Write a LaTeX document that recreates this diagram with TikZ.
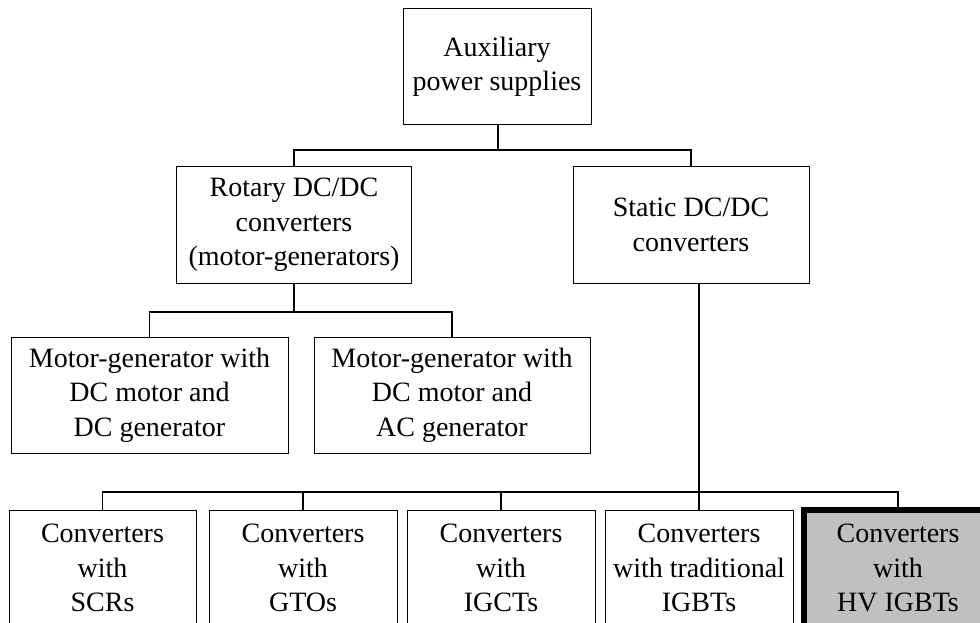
\documentclass[tikz,border=0pt]{standalone}
\usepackage{fontspec}
\setmainfont{Liberation Serif}
\usetikzlibrary{calc}
\definecolor{hvgrey}{HTML}{C0C0C0}
\tikzset{
  box/.style={draw=black, line width=1pt, fill=white, align=center, inner sep=0pt,
    minimum width=#1, minimum height=116pt,
    font=\fontsize{28}{34.5}\selectfont},
  box/.default=188pt,
  hvbox/.style={box, fill=hvgrey, line width=6pt},
  link/.style={draw=black, line width=1.3pt}
}
\begin{document}
\begin{tikzpicture}[x=1pt, y=-1pt]
  \useasboundingbox (0,0) rectangle (980,623);
  \clip (0,0) rectangle (980,623);

  % root
  \node[box] (aux) at (497,67) {Auxiliary\\power supplies};

  % second level
  \node[box=235pt] (rot) at (294,225) {Rotary DC/DC\\converters\\(motor-generators)};
  \node[box=236pt] (stat) at (691,225) {Static DC/DC\\converters};

  % motor-generator branch
  \node[box=277pt] (mgdc) at (149.5,395) {Motor-generator with\\DC motor and\\DC generator};
  \node[box=276pt] (mgac) at (452,395) {Motor-generator with\\DC motor and\\AC generator};

  % static converter branch
  \node[box=187pt] (scr)  at (102.5,568) {Converters\\with\\SCRs};
  \node[box=188pt] (gto)  at (303,568) {Converters\\with\\GTOs};
  \node[box=188pt] (igct) at (501,568) {Converters\\with\\IGCTs};
  \node[box=188pt] (igbt) at (699,568) {Converters\\with traditional\\IGBTs};
  \node[hvbox=188pt] (hv) at (898,568) {Converters\\with\\HV IGBTs};

  % junction points of the buses
  \coordinate (j1) at (498,150);
  \coordinate (j2) at (rot.south |- 0,312);
  \coordinate (j3) at (699,492);

  \draw[link] ($(aux.south)+(1,0)$) -- (j1);
  \draw[link] (rot.north) |- (j1) -| (stat.north);

  \draw[link] (rot.south) -- (j2);
  \draw[link] (mgdc.north) |- (j2) -| (mgac.north);

  \draw[link] ($(stat.south)+(8,0)$) -- (j3);
  \draw[link] (scr.north) |- (j3) -| (hv.north);
  \draw[link] (gto.north) -- (gto.north |- j3);
  \draw[link] (igct.north) -- (igct.north |- j3);
  \draw[link] (igbt.north) -- (j3);
\end{tikzpicture}
\end{document}
